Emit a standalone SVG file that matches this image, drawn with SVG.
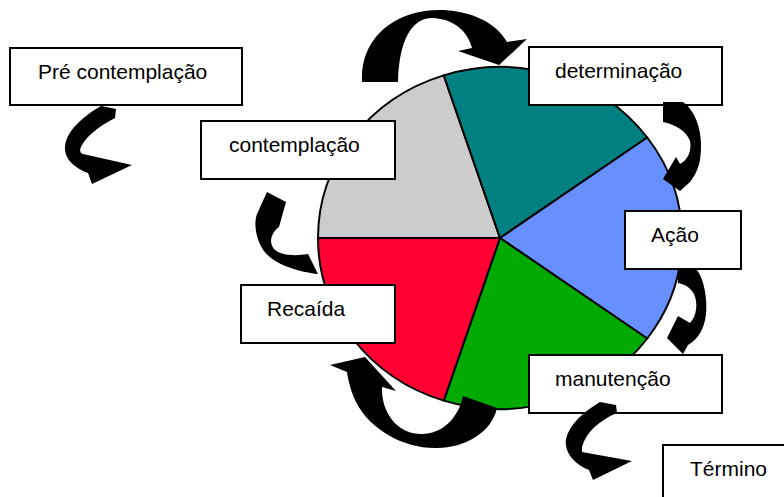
<svg xmlns="http://www.w3.org/2000/svg" width="784" height="497" viewBox="0 0 784 497">
<style>
.slice{stroke:#000;stroke-width:2;stroke-linejoin:round}
.box rect{fill:#fff;stroke:#000;stroke-width:2}
.box text{font-family:"Liberation Sans",Arial,sans-serif;font-size:21px;fill:#000}
.arrow{fill:#000}
</style>
<rect width="784" height="497" fill="#fff"/>
<g id="pie">
<path class="slice" fill="#CCCCCC" d="M500,238 L318,238 A182,171 0 0 1 443.76,75.37 Z"/>
<path class="slice" fill="#008080" d="M500,238 L443.76,75.37 A182,171 0 0 1 647.24,137.49 Z"/>
<path class="slice" fill="#6690FF" d="M500,238 L647.24,137.49 A182,171 0 0 1 647.24,338.51 Z"/>
<path class="slice" fill="#00AA00" d="M500,238 L647.24,338.51 A182,171 0 0 1 443.76,400.63 Z"/>
<path class="slice" fill="#FF0033" d="M500,238 L443.76,400.63 A182,171 0 0 1 318,238 Z"/>
</g>
<g id="pre" class="box"><rect x="10" y="48" width="232" height="57"/><text x="38" y="79">Pré contemplação</text></g>
<g id="contemplacao" class="box"><rect x="201" y="121" width="194" height="58"/><text x="229" y="152">contemplação</text></g>
<g id="recaida" class="box"><rect x="241" y="285" width="154" height="58"/><text x="267" y="316">Recaída</text></g>
<g id="determinacao" class="box"><rect x="529" y="47" width="193" height="58"/><text x="555" y="78">determinação</text></g>
<g id="acao" class="box"><rect x="625" y="211" width="116" height="58"/><text x="651" y="242">Ação</text></g>
<g id="manutencao" class="box"><rect x="529" y="355" width="193" height="58"/><text x="555" y="386">manutenção</text></g>
<g id="termino" class="box"><rect x="663" y="445" width="140" height="70"/><text x="690" y="476">Término</text></g>
<g id="connectors">
<path class="arrow" d="M362,82 C360,45 385,17 425,11 C455,7 492,16 507,42 L527,39 L499,65 L458,51 L472,48 C468,32 455,19 432,18 C412,18 399,40 398,82 Z"/>
<path class="arrow" d="M101,106 L116,109 L115,118 C103,124 88,134 82,145 C79,150 80,153 83,154 L132,165 L92,184 L88,173 C70,166 62,155 66,141 C70,128 84,116 101,106 Z"/>
<path class="arrow" d="M318,274 C300,272 272,265 262,248 C255,236 254,222 257,214 L267,192 L286,202 L279,227 C272,232 268,242 274,249 C281,256 296,256 308,254 Z"/>
<path class="arrow" d="M497,408 C492,432 465,448 437,448 C405,449 370,430 356,402 C351,392 348,380 347,372 L330,365 L365,357 L396,391 L382,387 C381,410 395,433 420,434 C440,435 458,420 463,396 Z"/>
<path class="arrow" d="M678,270 L697,270 C706,282 709,310 704,324 C701,334 695,341 688,345 L683,354 L667,338 L678,316 L690,323 C697,316 698,303 694,294 C690,287 684,284 678,283 Z"/>
<path class="arrow" d="M663,102 L683,102 C697,112 704,135 700,160 C698,170 694,177 690,182 L680,191 L663,179 L676,157 L680,164 C688,160 692,150 690,141 C687,132 677,125 663,122 Z"/>
<path class="arrow" d="M600,402 L616,405 L617,413 C600,420 586,432 582,447 L582,452 L632,461 L593,480 L589,470 C574,464 564,452 566,439 C569,425 583,412 600,402 Z"/>
</g>
</svg>
